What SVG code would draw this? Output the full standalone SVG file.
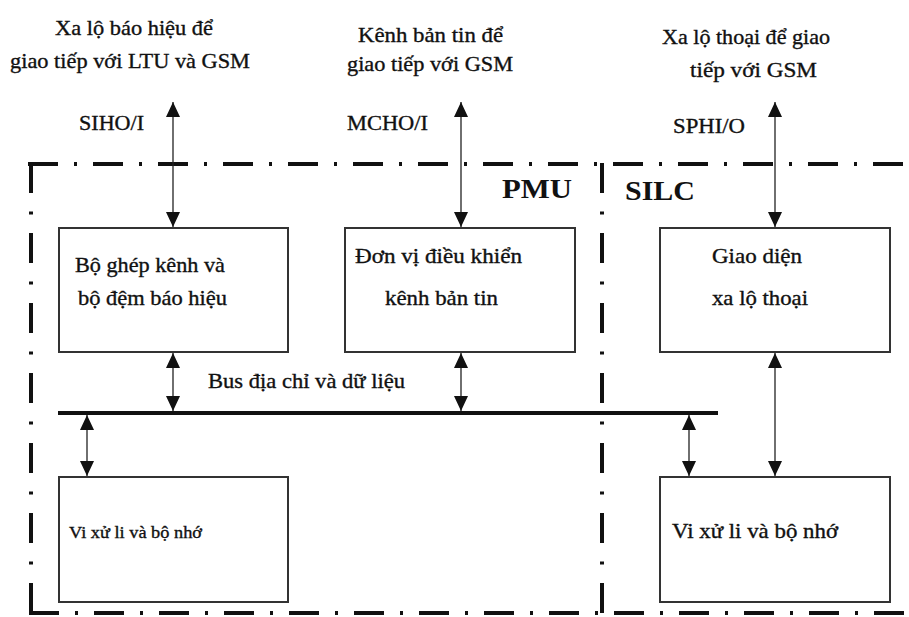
<svg xmlns="http://www.w3.org/2000/svg" width="909" height="617" viewBox="0 0 909 617">
  <style>
    .txt { font-family: "Liberation Serif", "DejaVu Serif", serif; font-size: 21px; fill: #111; stroke: #111; stroke-width: 0.35; }
    .big { font-family: "Liberation Serif", "DejaVu Serif", serif; font-size: 28px; font-weight: bold; fill: #111; }
    .box { fill: #fff; stroke: #333; stroke-width: 2; }
    .frame-h { fill: none; stroke: #111; stroke-width: 4; stroke-dasharray: 30 16 3 16; }
    .frame-v { fill: none; stroke: #111; stroke-width: 4; stroke-dasharray: 30 18.5 3 18.5; }
    .link { fill: none; stroke: #222; stroke-width: 1.3; marker-start: url(#head); marker-end: url(#head); }
    .bus { stroke: #111; stroke-width: 4; }
  </style>
  <defs>
    <marker id="head" viewBox="0 0 15 14" refX="15" refY="7" markerWidth="15" markerHeight="14" markerUnits="userSpaceOnUse" orient="auto-start-reverse">
      <path d="M0,0 L15,7 L0,14 z" fill="#111"/>
    </marker>
  </defs>

  <rect width="909" height="617" fill="#fff"/>

  <!-- dash-dot enclosure for the PMU and SILC sections -->
  <g id="frame">
    <path class="frame-h" d="M28,164 H909"/>
    <path class="frame-v" d="M31,163 V613"/>
    <path class="frame-h" d="M29,613 H909"/>
    <path class="frame-v" d="M602,163 V617"/>
    <text class="big" x="502" y="198" textLength="70" lengthAdjust="spacingAndGlyphs">PMU</text>
    <text class="big" x="625" y="200" textLength="70" lengthAdjust="spacingAndGlyphs">SILC</text>
  </g>

  <!-- external interface captions -->
  <g id="ext-signalling">
    <text class="txt" x="55" y="35" textLength="158" lengthAdjust="spacingAndGlyphs">Xa lộ báo hiệu để</text>
    <text class="txt" x="10" y="68" textLength="240" lengthAdjust="spacingAndGlyphs">giao tiếp với LTU và GSM</text>
    <text class="txt" x="79" y="130" textLength="65" lengthAdjust="spacingAndGlyphs">SIHO/I</text>
  </g>
  <g id="ext-message">
    <text class="txt" x="358" y="42" textLength="145" lengthAdjust="spacingAndGlyphs">Kênh bản tin để</text>
    <text class="txt" x="347" y="71" textLength="166" lengthAdjust="spacingAndGlyphs">giao tiếp với GSM</text>
    <text class="txt" x="347" y="130" textLength="81" lengthAdjust="spacingAndGlyphs">MCHO/I</text>
  </g>
  <g id="ext-speech">
    <text class="txt" x="662" y="44" textLength="168" lengthAdjust="spacingAndGlyphs">Xa lộ thoại để giao</text>
    <text class="txt" x="690" y="77" textLength="127" lengthAdjust="spacingAndGlyphs">tiếp với GSM</text>
    <text class="txt" x="673" y="133" textLength="72" lengthAdjust="spacingAndGlyphs">SPHI/O</text>
  </g>

  <!-- functional blocks -->
  <g id="mux-buffer">
    <rect class="box" x="59" y="228" width="229" height="124"/>
    <text class="txt" x="75" y="272" textLength="150" lengthAdjust="spacingAndGlyphs">Bộ ghép kênh và</text>
    <text class="txt" x="78" y="305" textLength="149" lengthAdjust="spacingAndGlyphs">bộ đệm báo hiệu</text>
  </g>
  <g id="msg-controller">
    <rect class="box" x="345" y="228" width="230" height="124"/>
    <text class="txt" x="355" y="263" textLength="167" lengthAdjust="spacingAndGlyphs">Đơn vị điều khiển</text>
    <text class="txt" x="385" y="305" textLength="113" lengthAdjust="spacingAndGlyphs">kênh bản tin</text>
  </g>
  <g id="speech-interface">
    <rect class="box" x="660" y="228" width="230" height="124"/>
    <text class="txt" x="712" y="263" textLength="90" lengthAdjust="spacingAndGlyphs">Giao diện</text>
    <text class="txt" x="712" y="305" textLength="96" lengthAdjust="spacingAndGlyphs">xa lộ thoại</text>
  </g>
  <g id="cpu-pmu">
    <rect class="box" x="59" y="477" width="229" height="125"/>
    <text class="txt" x="69" y="538" style="font-size:17px" textLength="133" lengthAdjust="spacingAndGlyphs">Vi xử li và bộ nhớ</text>
  </g>
  <g id="cpu-silc">
    <rect class="box" x="660" y="477" width="230" height="125"/>
    <text class="txt" x="672" y="538" textLength="166" lengthAdjust="spacingAndGlyphs">Vi xử li và bộ nhớ</text>
  </g>

  <!-- address and data bus -->
  <g id="bus">
    <line class="bus" x1="58" y1="413" x2="718" y2="413"/>
    <text class="txt" x="208" y="388" textLength="197" lengthAdjust="spacingAndGlyphs">Bus địa chỉ và dữ liệu</text>
  </g>

  <!-- connectors -->
  <g id="connectors">
    <line class="link" x1="173" y1="102" x2="173" y2="227"/>
    <line class="link" x1="461" y1="102" x2="461" y2="227"/>
    <line class="link" x1="775" y1="102" x2="775" y2="227"/>
    <line class="link" x1="173" y1="353" x2="173" y2="411"/>
    <line class="link" x1="461" y1="353" x2="461" y2="411"/>
    <line class="link" x1="87" y1="415" x2="87" y2="476"/>
    <line class="link" x1="689" y1="415" x2="689" y2="476"/>
    <line class="link" x1="775" y1="353" x2="775" y2="476"/>
  </g>
</svg>
